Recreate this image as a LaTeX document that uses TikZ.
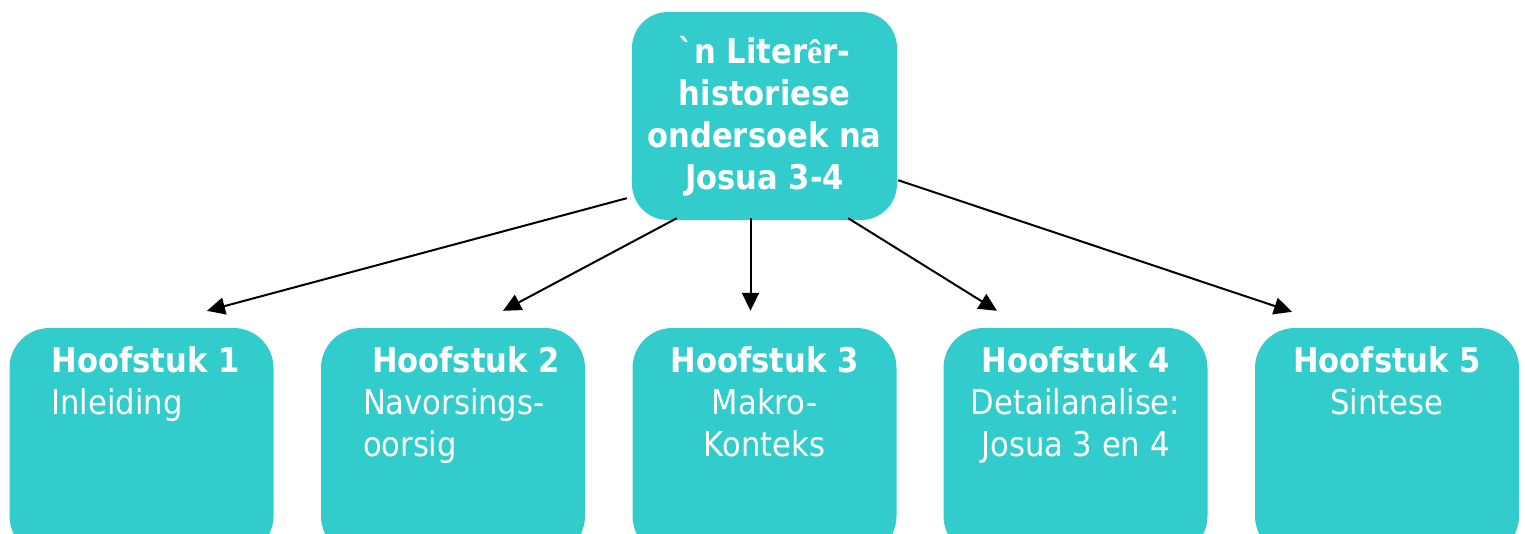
\documentclass[tikz,border=0pt]{standalone}
\usepackage{fontspec}
\setmainfont{DejaVu Sans}[FakeStretch=0.9]
\newfontfamily\gravefont{DejaVu Sans}[FakeStretch=0.9,Ligatures=TeXOff]
\newfontfamily\serifchar{Liberation Serif}
\usetikzlibrary{arrows.meta,positioning}
\definecolor{teal}{HTML}{33CCCC}
\tikzset{
  box/.style={fill=teal,rounded corners=40pt,minimum width=264pt,minimum height=228pt,inner sep=0pt},
  topbox/.style={fill=teal,rounded corners=36pt,minimum width=265pt,minimum height=208pt,inner sep=0pt,
    text=white,font=\fontsize{34}{42}\selectfont\bfseries,align=center},
  lbl/.style={text=white,inner sep=0pt,font=\fontsize{34}{42}\selectfont},
  arr/.style={line width=2pt,-{Triangle[length=18pt,width=17pt]}}
}
\begin{document}
\begin{tikzpicture}[x=1pt,y=-1pt]
      \useasboundingbox (0,0) rectangle (1525,533);
      \draw
        (764.5,116) node[topbox] (top){{\gravefont `}n Liter{\serifchar ê}r-\\historiese\\ondersoek na\\Josua 3-4}
        (141.5,442) node[box] (b1){}
        (453,442) node[box] (b2){}
        (764.5,442) node[box] (b3){}
        (1075.5,442) node[box] (b4){}
        (1387,442) node[box] (b5){};
      \node[lbl,align=left,below right=19pt and 42pt of b1.north west] (t1){\textbf{Hoofstuk 1}\\Inleiding};
      \node[lbl,align=left,below right=19pt and 42pt of b2.north west] (t2){\hspace{9pt}\textbf{Hoofstuk 2}\\Navorsings-\\oorsig};
      \node[lbl,align=center,below=19pt of b3.north] (t3){\textbf{Hoofstuk 3}\\Makro-\\Konteks};
      \node[lbl,align=center,below=19pt of b4.north] (t4){\textbf{Hoofstuk 4}\\Detailanalise:\\Josua 3 en 4};
      \node[lbl,align=center,below=19pt of b5.north] (t5){\textbf{Hoofstuk 5}\\Sintese};
      \begin{scope}[arr]
        \draw ([xshift=-5pt,yshift=22pt]top.south west) to ([xshift=65.5pt,yshift=17pt]b1.north);
        \draw ([xshift=45pt,yshift=2pt]top.south west) to ([xshift=50pt,yshift=17pt]b2.north);
        \draw ([xshift=-14pt,yshift=2pt]top.south) to ([xshift=-14pt,yshift=17pt]b3.north);
        \draw ([xshift=-49pt,yshift=2pt]top.south east) to ([xshift=-78.5pt,yshift=17pt]b4.north);
        \draw ([xshift=1pt,yshift=40pt]top.south east) to ([xshift=-95pt,yshift=16pt]b5.north);
      \end{scope}
    \end{tikzpicture}
\end{document}
